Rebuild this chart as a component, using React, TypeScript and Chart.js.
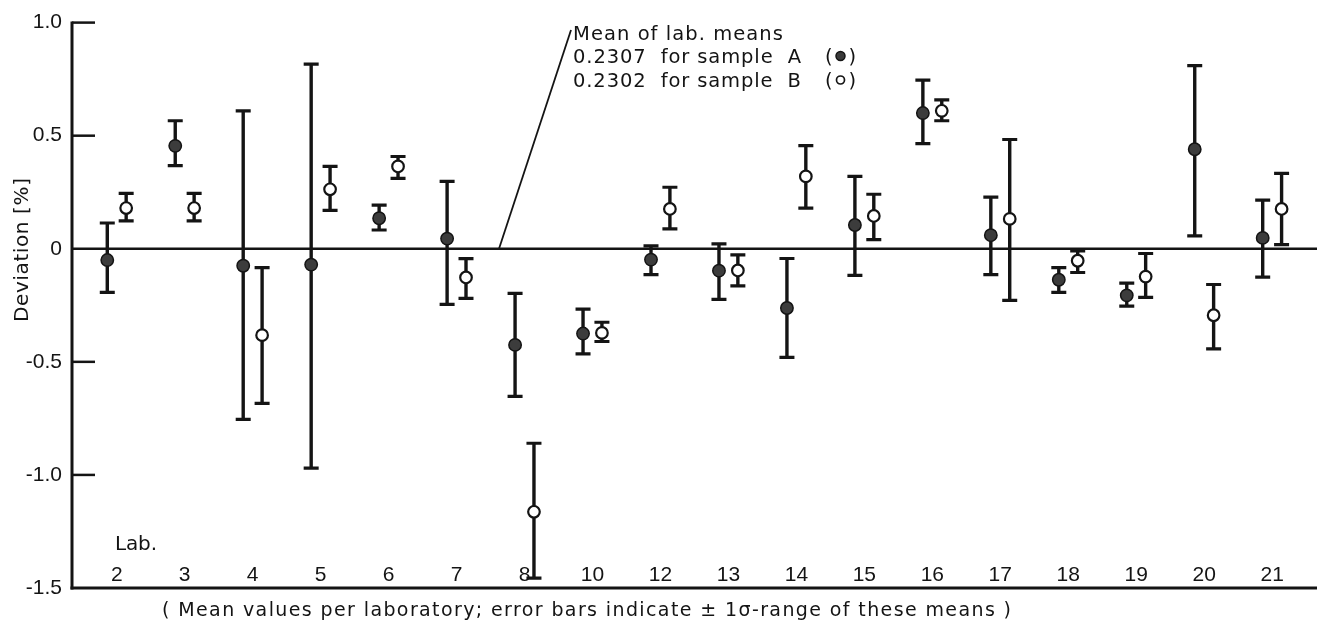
import React, { useEffect, useRef } from 'react';
import { Chart, registerables } from 'chart.js';

Chart.register(...registerables);

// ---------- data ----------
const LABS = ['2', '3', '4', '5', '6', '7', '8', '10', '12', '13', '14', '15', '16', '17', '18', '19', '20', '21'];

const A_MEAN = [-0.05, 0.455, -0.075, -0.07, 0.135, 0.045, -0.425, -0.375, -0.048, -0.097, -0.262, 0.105, 0.6, 0.06, -0.137, -0.206, 0.44, 0.048];
const A_HIGH = [0.114, 0.566, 0.61, 0.816, 0.193, 0.298, -0.197, -0.267, 0.013, 0.022, -0.043, 0.32, 0.746, 0.228, -0.083, -0.152, 0.81, 0.215];
const A_LOW = [-0.193, 0.368, -0.754, -0.97, 0.083, -0.246, -0.653, -0.465, -0.114, -0.224, -0.48, -0.118, 0.465, -0.114, -0.193, -0.254, 0.057, -0.125];

const B_MEAN = [0.18, 0.18, -0.382, 0.263, 0.364, -0.127, -1.163, -0.372, 0.176, -0.096, 0.32, 0.145, 0.61, 0.132, -0.053, -0.123, -0.294, 0.176];
const B_HIGH = [0.245, 0.245, -0.083, 0.364, 0.408, -0.044, -0.86, -0.325, 0.272, -0.027, 0.456, 0.241, 0.658, 0.483, -0.01, -0.021, -0.158, 0.333];
const B_LOW = [0.123, 0.123, -0.684, 0.17, 0.311, -0.219, -1.456, -0.41, 0.088, -0.164, 0.18, 0.04, 0.566, -0.228, -0.105, -0.215, -0.443, 0.018];

const Y_TICKS = [-1.5, -1.0, -0.5, 0, 0.5, 1.0];
const Y_TICK_LABELS = ['-1.5', '-1.0', '-0.5', '0', '0.5', '1.0'];

const Y_TITLE = 'Deviation [%]';
const X_TITLE = 'Lab.';
const CAPTION = '( Mean values per laboratory; error bars indicate \u00b1 1\u03c3-range of these means )';
const NOTE_TITLE = 'Mean of lab. means';
const NOTE_A = '0.2307  for sample  A';
const NOTE_B = '0.2302  for sample  B';

// ---------- style ----------
const INK = '#141414';
const FONT = '"Liberation Sans", Arial, sans-serif';
const TFONT = '"DejaVu Sans", "Liberation Sans", sans-serif';
const PAIR_OFFSET = 0.139; // horizontal split of A/B within a lab, in category units

function fitText(ctx: CanvasRenderingContext2D, text: string, x: number, y: number, w: number) {
  (ctx as any).letterSpacing = '0px';
  ctx.textAlign = 'left';
  const natural = ctx.measureText(text).width;
  const n = Array.from(text).length;
  const ls = n > 1 ? (w - natural) / (n - 1) : 0;
  (ctx as any).letterSpacing = ls.toFixed(2) + 'px';
  ctx.fillText(text, x, y);
  (ctx as any).letterSpacing = '0px';
}

const decorPlugin = {
  id: 'decor',
  beforeDatasetsDraw(chart: any) {
    const { ctx, chartArea } = chart;
    const xs = chart.scales.x;
    const ys = chart.scales.y;
    ctx.save();
    ctx.strokeStyle = INK;
    ctx.lineCap = 'butt';

    const left = chartArea.left;
    const right = chartArea.right;
    const top = ys.getPixelForValue(1.0);
    const bottom = ys.getPixelForValue(-1.5);
    const zero = ys.getPixelForValue(0);

    // left axis
    ctx.lineWidth = 3;
    ctx.beginPath();
    ctx.moveTo(left, top - 1);
    ctx.lineTo(left, bottom + 1.5);
    ctx.stroke();
    // bottom axis
    ctx.beginPath();
    ctx.moveTo(left - 1.5, bottom);
    ctx.lineTo(right, bottom);
    ctx.stroke();
    // zero line
    ctx.lineWidth = 2.5;
    ctx.beginPath();
    ctx.moveTo(left, zero);
    ctx.lineTo(right, zero);
    ctx.stroke();
    // inward ticks
    ctx.lineWidth = 2.5;
    Y_TICKS.forEach((v) => {
      if (v === 0 || v === -1.5) return;
      const py = ys.getPixelForValue(v);
      ctx.beginPath();
      ctx.moveTo(left, py);
      ctx.lineTo(left + 23, py);
      ctx.stroke();
    });

    // leader line of the note
    ctx.lineWidth = 1.8;
    ctx.beginPath();
    ctx.moveTo(499, zero);
    ctx.lineTo(571, 30);
    ctx.stroke();

    // error bars
    const bar = (px: number, lo: number, hi: number) => {
      const y1 = ys.getPixelForValue(hi);
      const y2 = ys.getPixelForValue(lo);
      ctx.lineWidth = 3.4;
      ctx.beginPath();
      ctx.moveTo(px, y1);
      ctx.lineTo(px, y2);
      ctx.stroke();
      ctx.lineWidth = 3.2;
      ctx.beginPath();
      ctx.moveTo(px - 7.5, y1);
      ctx.lineTo(px + 7.5, y1);
      ctx.moveTo(px - 7.5, y2);
      ctx.lineTo(px + 7.5, y2);
      ctx.stroke();
    };
    LABS.forEach((_, i) => {
      bar(xs.getPixelForValue(i - PAIR_OFFSET), A_LOW[i], A_HIGH[i]);
      bar(xs.getPixelForValue(i + PAIR_OFFSET), B_LOW[i], B_HIGH[i]);
    });
    ctx.restore();
  },
  afterDraw(chart: any) {
    const { ctx } = chart;
    const xs = chart.scales.x;
    const ys = chart.scales.y;
    const bottom = ys.getPixelForValue(-1.5);
    ctx.save();
    ctx.fillStyle = INK;
    ctx.textBaseline = 'alphabetic';

    // x category labels (inside, above the axis)
    ctx.font = `21px ${FONT}`;
    ctx.textAlign = 'center';
    LABS.forEach((lab, i) => {
      ctx.fillText(lab, xs.getPixelForValue(i), bottom - 7);
    });
    // "Lab."
    ctx.font = `20px ${TFONT}`;
    fitText(ctx, X_TITLE, 115, 550, 42);

    // caption
    ctx.font = `19px ${TFONT}`;
    fitText(ctx, CAPTION, 162, 616, 849);

    // note
    ctx.font = `19.5px ${TFONT}`;
    fitText(ctx, NOTE_TITLE, 573, 40, 210);
    fitText(ctx, NOTE_A, 573, 63, 228);
    fitText(ctx, NOTE_B, 573, 87, 228);
    ctx.textAlign = 'left';
    ctx.fillText('(', 825, 63);
    ctx.fillText('(', 825, 87);
    ctx.textAlign = 'right';
    ctx.fillText(')', 856, 63);
    ctx.fillText(')', 856, 87);
    // legend markers
    ctx.beginPath();
    ctx.arc(840.5, 56, 4.5, 0, Math.PI * 2);
    ctx.fillStyle = '#3a3a3a';
    ctx.fill();
    ctx.lineWidth = 1.5;
    ctx.strokeStyle = INK;
    ctx.stroke();
    ctx.beginPath();
    ctx.arc(840.5, 80, 4, 0, Math.PI * 2);
    ctx.fillStyle = '#fff';
    ctx.fill();
    ctx.lineWidth = 1.7;
    ctx.stroke();

    // y title
    ctx.fillStyle = INK;
    ctx.font = `20px ${TFONT}`;
    ctx.translate(28, 250);
    ctx.rotate(-Math.PI / 2);
    fitText(ctx, Y_TITLE, -72, 0, 144);
    ctx.restore();
  },
};

export default function App() {
  const ref = useRef<HTMLCanvasElement | null>(null);

  useEffect(() => {
    if (!ref.current) return;
    const chart = new Chart(ref.current, {
      type: 'scatter',
      data: {
        datasets: [
          {
            label: 'Sample A',
            data: LABS.map((_, i) => ({ x: i - PAIR_OFFSET, y: A_MEAN[i] })),
            pointRadius: 6.2,
            pointBackgroundColor: '#3c3c3c',
            pointBorderColor: INK,
            pointBorderWidth: 1.5,
            showLine: false,
          },
          {
            label: 'Sample B',
            data: LABS.map((_, i) => ({ x: i + PAIR_OFFSET, y: B_MEAN[i] })),
            pointRadius: 5.8,
            pointBackgroundColor: '#ffffff',
            pointBorderColor: INK,
            pointBorderWidth: 2.2,
            showLine: false,
          },
        ],
      },
      options: {
        responsive: false,
        animation: false,
        devicePixelRatio: 1,
        events: [],
        layout: { padding: { top: 19, bottom: 39, left: 0, right: 0 } },
        plugins: { legend: { display: false }, tooltip: { enabled: false } },
        scales: {
          x: {
            type: 'linear',
            display: false,
            min: -0.658,
            max: 17.66,
          },
          y: {
            type: 'linear',
            min: -1.5,
            max: 1.0,
            afterFit: (s: any) => {
              s.width = 72;
            },
            afterBuildTicks: (s: any) => {
              s.ticks = Y_TICKS.map((v) => ({ value: v }));
            },
            ticks: {
              callback: (v: any) => {
                const k = Y_TICKS.indexOf(Number(v));
                return k >= 0 ? Y_TICK_LABELS[k] : '';
              },
              font: { family: FONT, size: 21 },
              color: INK,
              padding: 10,
            },
            grid: { display: false, drawTicks: false },
            border: { display: false },
          },
        },
      },
      plugins: [decorPlugin],
    });
    return () => chart.destroy();
  }, []);

  return (
    <div style={{ position: 'fixed', left: 0, top: 0, width: 1325, height: 627, background: '#fff' }}>
      <canvas ref={ref} width={1325} height={627} style={{ display: 'block' }} />
    </div>
  );
}
